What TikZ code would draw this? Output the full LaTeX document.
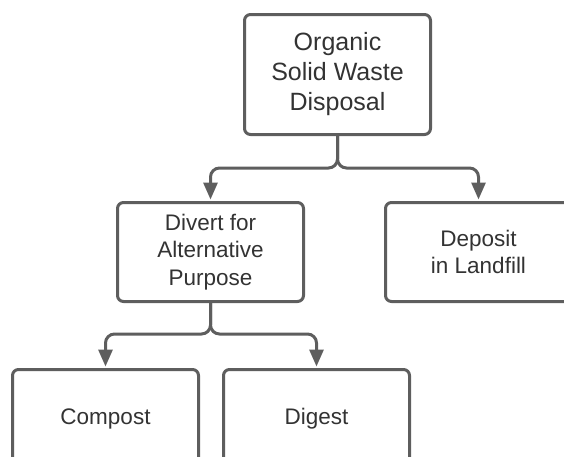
\documentclass[tikz,border=0pt]{standalone}
\usepackage{fontspec}
\setmainfont{Liberation Sans}
\usepackage{xcolor}
\usepackage{tikz}
\usetikzlibrary{arrows.meta,positioning,calc}
\definecolor{wsline}{HTML}{5E5E5E}
\definecolor{wstext}{HTML}{333333}
\tikzset{
  wbox/.style={rectangle,rounded corners=6pt,draw=wsline,line width=3pt,fill=white,
               minimum width=186pt,minimum height=99pt,inner sep=0pt,
               align=center,text=wstext,font=\fontsize{22.5}{27.5}\selectfont},
  link/.style={-{Triangle[length=17pt,width=14pt]},line width=3pt,draw=wsline,
               rounded corners=9pt,shorten >=1.5pt},
}
\begin{document}
\begin{tikzpicture}[
  rootbox/.style={wbox,minimum height=120pt,font=\fontsize{25}{30}\selectfont}]
  \useasboundingbox (0,0) rectangle (564pt,-456pt);
  \node[rootbox] (root) at (337.5pt,-74.5pt) {Organic\\Solid Waste\\Disposal};
  \node[wbox,below=65pt of root,xshift=-127pt] (divert) {Divert for\\Alternative\\Purpose};
  \node[wbox,right=79pt of divert] (deposit) {Deposit\\in Landfill};
  \node[wbox,below=65pt of divert,xshift=-105pt] (compost) {Compost};
  \node[wbox,right=22pt of compost] (digest) {Digest};
  \draw[link] (root.south) -- ++(0,-32pt) -| (divert.north);
  \draw[link] (root.south) -- ++(0,-32pt) -| (deposit.north);
  \draw[link] (divert.south) -- ++(0,-31pt) -| (compost.north);
  \draw[link] (divert.south) -- ++(0,-31pt) -| (digest.north);
\end{tikzpicture}
\end{document}
